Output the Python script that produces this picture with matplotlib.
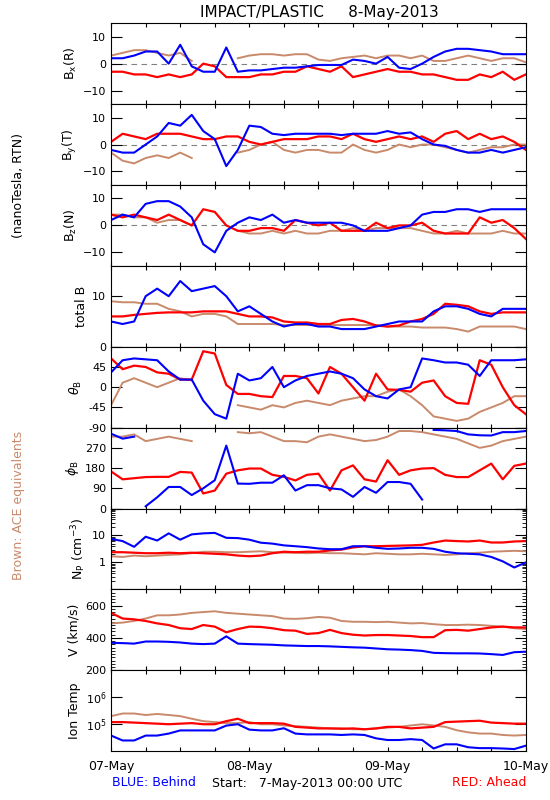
import matplotlib
matplotlib.use("Agg")
import matplotlib.pyplot as plt
import numpy as np

# hours since 7-May-2013 00:00 UTC, every 2 hours
hours = list(range(0, 73, 2))
nan = float("nan")

bx_blue = [2, 2, 3, 4.5, 4.5, 0, 7, -1, -3, -3, 6, -3, -2.5, -2.5, -2, -1.5, -1.5, -1, -0.5,
           -0.5, -0.5, 1.5, 1, 0, 2.5, -1.5, -2, 0, 2.5, 4.5, 5.5, 5.5, 5, 4.5, 3.5, 3.5, 3.5]
bx_red = [-3, -3, -4, -4, -5, -4, -5, -4, 0, -1, -5, -5, -5, -4, -4, -3, -3, -1, -2,
          -3, -1, -5, -4, -3, -2, -3, -3, -4, -4, -5, -6, -6, -4, -5, -3, -6, -4]
bx_brown = [3, 4, 5, 5, 4, 3, 4, 1, nan, nan, nan, 2, 3, 3.5, 3.5, 3, 3.5, 3.5, 1.5,
            1, 2, 2.5, 3, 2, 3, 3, 2, 3, 1, 1, 2, 3, 2, 1, 2, 2, 0.5]

by_blue = [-2, -3, -3, 0, 3, 8, 7, 11, 5, 2, -8, -2, 7, 6.5, 4, 3.5, 4, 4, 4,
           4, 3.5, 4, 4, 4, 5, 4, 4.5, 2, 0, -0.5, -2, -3, -3, -2, -3, -2, -1]
by_red = [1, 4, 3, 2, 4, 4, 4, 3, 2, 2, 3, 3, 1, 0, 1, 2, 2, 2, 3,
          3, 2, 4, 2, 1, 2, 3, 2, 3, 1, 4, 5, 2, 4, 2, 3, 1, -2]
by_brown = [-3, -6, -7, -5, -4, -5, -3, -5, nan, nan, nan, -3, -2, 0, 1, -2, -3, -2, -2,
            -3, -3, 0, -2, -3, -2, 0, -1, 0, 0, -1, -2, -3, -2, -1, -1, 0, 0]

bz_blue = [2, 4, 3, 8, 9, 9, 7, 3, -7, -10, -2, 1, 3, 2, 4, 1, 2, 1, 1,
           1, 1, 0, -2, -2, -2, -1, 0, 4, 5, 5, 6, 6, 5, 6, 6, 6, 6]
bz_red = [4, 3, 4, 3, 2, 4, 2, 0, 6, 5, 0, -2, -2, -1, -1, -2, 2, 1, 0,
          1, -2, -2, -2, 1, -1, 0, 0, 1, -2, -3, -3, -3, 3, 1, 2, -1, -5]
bz_brown = [4, 4, 3, 3, 1, 2, 2, 0, nan, nan, nan, -2, -3, -3, -2, -3, -2, -3, -3,
            -2, -2, -1, -2, -1, -1, -1, -1, -2, -3, -3, -2, -3, -3, -3, -2, -3, -3]

bt_blue = [5, 4.5, 5, 10, 11.5, 10, 13, 11, 11.5, 12, 10, 7, 8, 6.5, 5, 4, 4.5, 4.5, 4,
           4, 3.5, 3.5, 3.5, 4, 4.5, 5, 5, 5, 7, 8, 8, 7.5, 6.5, 6, 7.5, 7.5, 7.5]
bt_red = [6, 6, 6.3, 6.5, 6.7, 6.8, 6.8, 6.8, 7, 7, 7, 6.5, 6, 6, 5.8, 5, 4.8, 4.8, 4.5,
          4.5, 5.3, 5.5, 5, 4.2, 4, 4.2, 5, 5.5, 6.5, 8.5, 8.3, 8, 7, 6.5, 6.8, 6.8, 6.8]
bt_brown = [9, 8.8, 8.8, 8.5, 8.5, 7.5, 7, 6, 6.5, 6.5, 6, 4.5, 4.5, 4.5, 4.5, 4.3, 4.3, 4.3, 4.3,
            4.3, 4.3, 4.3, 4.3, 4.3, 4, 4, 4, 3.8, 3.8, 3.8, 3.5, 3, 4, 4, 4, 4, 3.5]

theta_blue = [33, 60, 64, 62, 60, 35, 17, 17, -30, -60, -70, 30, 15, 20, 45, 0, 15, 25, 30,
              35, 30, 20, -5, -20, -25, -5, 0, 64, 60, 55, 55, 50, 25, 60, 60, 60, 62]
theta_red = [64, 40, 48, 45, 33, 30, 17, 17, 80, 75, 5, -15, -15, -20, -22, 25, 25, 20, -14,
             45, 30, 0, -30, 30, -5, -6, -10, 10, 15, -20, -35, -37, 60, 50, 0, -40, -60]
theta_brown = [-40, 10, 20, 10, 0, 10, 20, 15, nan, nan, nan, -40, -45, -50, -40, -45, -35, -30, -35,
               -40, -30, -25, -20, -20, -10, -5, -20, -40, -65, -70, -75, -70, -55, -45, -35, -20, -20]

phi_blue = [333, 311, 320, 10, 50, 96, 96, 60, 90, 126, 280, 111, 110, 115, 115, 148, 80, 104, 104,
            90, 85, 52, 96, 70, 118, 118, 110, 40, 350, 348, 345, 330, 326, 325, 340, 340, 345]
phi_red = [165, 130, 135, 140, 141, 141, 163, 160, 67, 80, 155, 170, 178, 178, 150, 141, 125, 150, 155,
           80, 170, 192, 130, 120, 215, 150, 170, 178, 180, 150, 140, 140, 170, 200, 130, 190, 200]
phi_brown = [320, 320, 330, 300, 310, 320, 310, 300, nan, nan, nan, 340, 335, 340, 320, 300, 300, 295, 320,
             330, 320, 310, 300, 305, 320, 345, 345, 340, 330, 320, 310, 290, 270, 280, 300, 310, 320]

np_blue = [7.5, 6.2, 3.8, 9, 6.5, 12, 7, 11, 12, 12.5, 8.2, 8, 7, 5.4, 5, 4.3, 4, 3.7, 3.3,
           3.1, 3.1, 4, 4, 3.5, 3.2, 3.3, 3.5, 3.5, 3.2, 2.5, 2.2, 2.1, 2, 1.6, 1.1, 0.65, 1]
np_red = [2.4, 2.4, 2.3, 2.2, 2.2, 2.3, 2.2, 2.3, 2.2, 2.1, 2, 1.8, 1.7, 1.8, 2.2, 2.5, 2.4, 2.5, 2.5,
          2.8, 3, 3.6, 4, 4, 4.1, 4.2, 4.3, 4.5, 5.5, 6.5, 6.2, 6, 6.5, 5.5, 5.5, 6, 6.2]
np_brown = [1.7, 1.6, 1.8, 1.7, 1.8, 1.9, 2, 2.2, 2.5, 2.5, 2.4, 2.4, 2.5, 2.6, 2.4, 2.3, 2.3, 2.2, 2.3,
            2.2, 2.2, 2.1, 2, 2.2, 2.1, 2, 2, 2.1, 2, 1.9, 2, 2.2, 2.3, 2.5, 2.6, 2.7, 2.6]

v_blue = [370, 368, 365, 378, 378, 376, 372, 365, 362, 365, 410, 365, 362, 360, 358, 354, 352, 350, 350,
          348, 345, 342, 340, 335, 330, 328, 325, 320, 308, 306, 305, 305, 304, 300, 295, 312, 315]
v_red = [555, 520, 515, 505, 490, 480, 460, 455, 480, 470, 435, 455, 470, 468, 460, 448, 445, 425, 430,
         450, 430, 420, 415, 418, 418, 415, 412, 405, 405, 448, 450, 445, 455, 465, 470, 465, 465]
v_brown = [490, 495, 505, 520, 540, 540, 545, 555, 560, 565, 555, 550, 545, 540, 535, 520, 518, 522, 530,
           525, 505, 500, 500, 498, 500, 495, 490, 492, 485, 480, 480, 482, 480, 475, 470, 460, 455]

temp_blue = [3.8e4, 2.5e4, 2.5e4, 3.8e4, 3.8e4, 4.5e4, 5.9e4, 5.9e4, 5.9e4, 5.9e4, 8.9e4, 1.0e5, 6.3e4,
             5.9e4, 5.9e4, 7.1e4, 4.5e4, 4.2e4, 4.2e4, 4.2e4, 4.0e4, 4.2e4, 4.0e4, 3.0e4, 2.6e4, 2.6e4,
             2.8e4, 2.6e4, 1.26e4, 1.8e4, 1.8e4, 1.4e4, 1.3e4, 1.3e4, 1.26e4, 1.2e4, 1.6e4]
temp_red = [1.2e5, 1.2e5, 1.15e5, 1.1e5, 1.05e5, 1.0e5, 1.05e5, 1.1e5, 1.0e5, 1.0e5, 1.3e5, 1.6e5, 1.1e5,
            1.1e5, 1.1e5, 1.05e5, 8e4, 7.5e4, 7e4, 7e4, 6.8e4, 7e4, 6.5e4, 7e4, 8e4, 8e4,
            7e4, 7.5e4, 8e4, 1.2e5, 1.25e5, 1.3e5, 1.35e5, 1.15e5, 1.1e5, 1.05e5, 1.05e5]
temp_brown = [2.0e5, 2.5e5, 2.5e5, 2.2e5, 2.4e5, 2.2e5, 2.0e5, 1.6e5, 1.3e5, 1.2e5, 1.1e5, 1.1e5, 1.2e5,
              1.0e5, 1.0e5, 9e4, 8.5e4, 8e4, 7.5e4, 7e4, 7e4, 6.5e4, 6.5e4, 7e4, 7.5e4, 8e4,
              9e4, 1.0e5, 9e4, 8e4, 6e4, 5e4, 4.5e4, 4.5e4, 4e4, 3.8e4, 4e4]

day_labels = ["07-May", "08-May", "09-May", "10-May"]

BLUE = "#0000ff"
RED = "#ff0000"
BROWN = "#c98a6c"


def break_wraps(values):
    # insert gaps where the angle wraps around 0/360
    xs, ys = [], []
    for i, v in enumerate(values):
        if i > 0 and abs(v - values[i - 1]) > 180:
            xs.append((hours[i] + hours[i - 1]) / 2)
            ys.append(nan)
        xs.append(hours[i])
        ys.append(v)
    return xs, ys


panels = [
    (r"$\mathregular{B_x(R)}$", bx_blue, bx_red, bx_brown),
    (r"$\mathregular{B_y(T)}$", by_blue, by_red, by_brown),
    (r"$\mathregular{B_z(N)}$", bz_blue, bz_red, bz_brown),
    ("total B", bt_blue, bt_red, bt_brown),
    (r"$\theta_{\rm B}$", theta_blue, theta_red, theta_brown),
    (r"$\phi_{\rm B}$", phi_blue, phi_red, phi_brown),
    (r"$\mathregular{N_P\ (cm^{-3})}$", np_blue, np_red, np_brown),
    ("V (km/s)", v_blue, v_red, v_brown),
    ("Ion Temp", temp_blue, temp_red, temp_brown),
]

fig, axes = plt.subplots(9, 1, figsize=(5.5, 8), dpi=100, sharex=True)
fig.subplots_adjust(left=0.202, right=0.956, bottom=0.061, top=0.971, hspace=0)

for i, (label, blue, red, brown) in enumerate(panels):
    ax = axes[i]
    for data, color, lw in [(brown, BROWN, 1.4), (red, RED, 1.6), (blue, BLUE, 1.5)]:
        if i == 5:
            xs, ys = break_wraps(data)
            ax.plot(xs, ys, color=color, lw=lw)
        else:
            ax.plot(hours, data, color=color, lw=lw)

    if i < 3:
        ax.axhline(0, color="gray", lw=0.8, ls=(0, (5, 4)), zorder=0)
        ax.set_ylim(-15, 15)
        ax.set_yticks([-10, 0, 10])
    elif i == 3:
        ax.set_ylim(0, 16)
        ax.set_yticks([0, 10])
    elif i == 4:
        ax.set_ylim(-90, 90)
        ax.set_yticks([-90, -45, 0, 45, 90])
        ax.set_yticklabels(["-90", "-45", "0", "45", ""])
    elif i == 5:
        ax.set_ylim(0, 360)
        ax.set_yticks([0, 90, 180, 270, 360])
        ax.set_yticklabels(["0", "90", "180", "270", ""])
    elif i == 6:
        ax.set_yscale("log")
        ax.set_ylim(0.1, 100)
        ax.set_yticks([0.1, 1, 10, 100])
        ax.set_yticklabels(["", "1", "10", ""])
    elif i == 7:
        ax.set_ylim(200, 700)
        ax.set_yticks([200, 400, 600])
        ax.set_yticks(np.arange(200, 701, 20), minor=True)
    else:
        ax.set_yscale("log")
        ax.set_ylim(1e4, 1e7)
        ax.set_yticks([1e5, 1e6])
        ax.set_yticklabels([r"$10^5$", r"$10^6$"])
        ax.minorticks_off()

    ax.set_ylabel(label, fontsize=9, labelpad=3)
    ax.set_xlim(0, 72)
    ax.set_xticks(range(0, 73, 6))
    ax.tick_params(axis="both", which="both", direction="in", top=True, right=True, labelsize=8)
    ax.tick_params(axis="x", length=3)
    ax.tick_params(axis="y", which="major", length=8)
    ax.tick_params(axis="y", which="minor", length=3)
    for s in ax.spines.values():
        s.set_linewidth(0.8)

axes[-1].set_xticklabels([day_labels[k // 4] if k % 4 == 0 else "" for k in range(13)], fontsize=9)
axes[-1].tick_params(axis="x", pad=6)

fig.text(0.58, 0.985, "IMPACT/PLASTIC     8-May-2013", ha="center", va="center", fontsize=11)
fig.text(0.033, 1 - 185 / 800, "(nanoTesla, RTN)", rotation=90, ha="center", va="center", fontsize=9)
fig.text(0.033, 1 - 505 / 800, "Brown: ACE equivalents", rotation=90, ha="center", va="center",
         fontsize=9, color=BROWN)
fig.text(112 / 550, 1 - 783 / 800, "BLUE: Behind", color=BLUE, ha="left", va="center", fontsize=9)
fig.text(212 / 550, 1 - 783 / 800, "Start:   7-May-2013 00:00 UTC", ha="left", va="center", fontsize=9)
fig.text(526 / 550, 1 - 783 / 800, "RED: Ahead", color=RED, ha="right", va="center", fontsize=9)

fig.savefig("out.png", dpi=100)
